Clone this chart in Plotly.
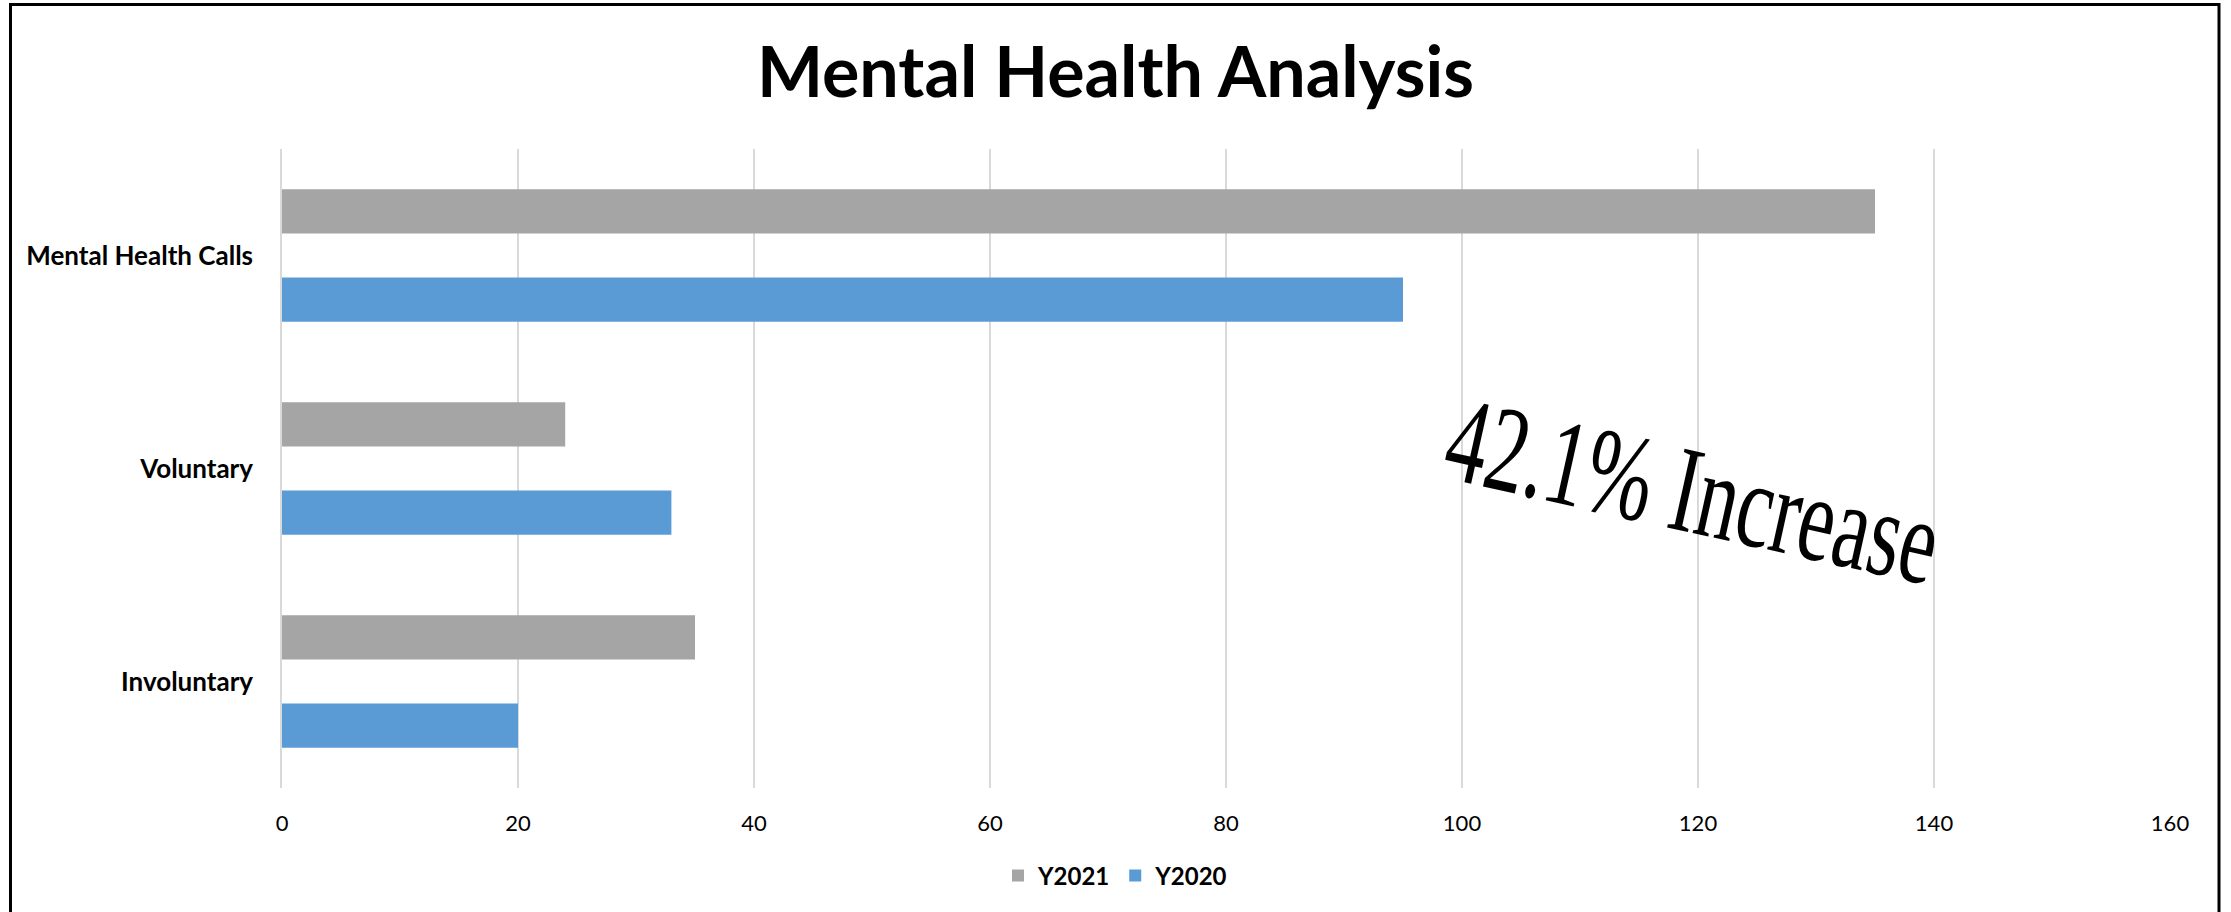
import plotly.graph_objects as go

categories = ["Mental Health Calls", "Voluntary", "Involuntary"]
y2021 = [135, 24, 35]
y2020 = [95, 33, 20]
x_ticks = [0, 20, 40, 60, 80, 100, 120, 140, 160]
title_text = "Mental Health Analysis"
note_text = "42.1% Increase"

W, H = 2231, 912
L, R, T, B = 282, 61, 149, 124
pw, ph = W - L - R, H - T - B

def px_x(p):
    return (p - L) / pw

def px_y(p):
    return 1 - (p - T) / ph

fig = go.Figure()
fig.add_trace(go.Bar(name="Y2021", y=categories, x=y2021, orientation="h",
                     marker=dict(color="#A5A5A5", line=dict(width=0))))
fig.add_trace(go.Bar(name="Y2020", y=categories, x=y2020, orientation="h",
                     marker=dict(color="#5B9BD5", line=dict(width=0))))

fig.update_layout(
    width=W, height=H,
    margin=dict(l=L, r=R, t=T, b=B, autoexpand=False),
    paper_bgcolor="white", plot_bgcolor="white",
    barmode="group", bargap=0.17, bargroupgap=0.5,
    title=dict(text=title_text, x=0.5, xref="container", xanchor="center",
               y=1 - 72 / H, yref="container", yanchor="middle",
               font=dict(family="Lato", size=70, color="black", weight="bold")),
    xaxis=dict(range=[0, 160], tickvals=x_ticks, ticktext=[str(v) for v in x_ticks],
               showgrid=True, gridcolor="#D9D9D9", gridwidth=1.5,
               zeroline=False, showline=False, ticks="",
               ticklabelstandoff=20,
               tickfont=dict(family="Lato", size=22, color="black")),
    yaxis=dict(autorange="reversed", showgrid=False, zeroline=False,
               showline=True, linecolor="#D9D9D9", linewidth=1.5, ticks="",
               ticklabelstandoff=22,
               tickfont=dict(family="Lato", size=26, color="black", weight="bold")),
    legend=dict(orientation="h", x=0.5, xref="container", xanchor="center",
                y=1 - 876 / H, yref="container", yanchor="middle",
                font=dict(family="Lato", size=24, color="black", weight="bold"),
                traceorder="normal"),
    showlegend=True,
    annotations=[dict(text=note_text, xref="paper", yref="paper",
                      x=px_x(1693), y=px_y(490), xanchor="center", yanchor="middle",
                      textangle=12.5, showarrow=False,
                      font=dict(family="Liberation Serif", size=123, color="black"))],
    shapes=[dict(type="rect", xref="paper", yref="paper",
                 x0=px_x(10.5), x1=px_x(2219), y0=px_y(940), y1=px_y(4.5),
                 line=dict(color="black", width=3), fillcolor="rgba(0,0,0,0)",
                 layer="above")],
)

post = """
document.body.style.margin = '0';
document.documentElement.style.margin = '0';
var gd = document.getElementById('{plot_id}');
gd.querySelectorAll('.annotation-text').forEach(function(el){
  if (el.textContent.indexOf('Increase') >= 0) {
    el.style.transformBox = 'fill-box';
    el.style.transformOrigin = 'center';
    el.style.transform = 'scaleX(0.66)';
  }
});
"""

fig.write_html("out.html", post_script=post, config={"displayModeBar": False})
